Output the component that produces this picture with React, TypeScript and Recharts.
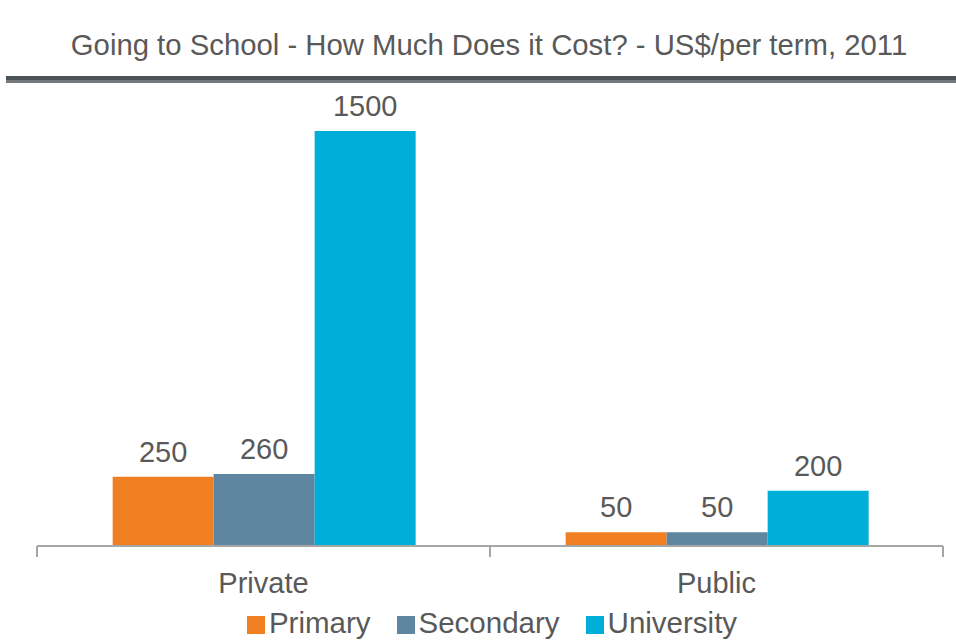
import React from "react";
import { BarChart, Bar, XAxis, YAxis, Legend, LabelList } from "recharts";

const categories = ["Private", "Public"];
const primary = [250, 50];
const secondary = [260, 50];
const university = [1500, 200];

const seriesNames = ["Primary", "Secondary", "University"];
const seriesColors = ["#F07F22", "#5E86A0", "#00AEDA"];

const TITLE = "Going to School - How Much Does it Cost? - US$/per term, 2011";
const FONT = '"Liberation Sans", Arial, sans-serif';
const GREY = "#595959";

const data = categories.map((c, i) => ({
  name: c,
  primary: primary[i],
  secondary: secondary[i],
  university: university[i],
}));

const W = 956;
const H = 640;
const margin = { top: 131, right: 13, bottom: 64, left: 37 };
const half = (W - margin.left - margin.right) / categories.length / 2;

const CategoryTick = (props: any) => {
  const { x, y, payload, index } = props;
  const off = payload && payload.offset ? payload.offset : half;
  const axisY = y - 8;
  return (
    <g>
      <line x1={x - off} x2={x - off} y1={axisY} y2={axisY + 11} stroke="#A6A6A6" strokeWidth={2} />
      {index === categories.length - 1 && (
        <line x1={x + off} x2={x + off} y1={axisY} y2={axisY + 11} stroke="#A6A6A6" strokeWidth={2} />
      )}
      <text x={x} y={y + 39} textAnchor="middle" fill={GREY} fontSize={29} fontFamily={FONT}>
        {payload.value}
      </text>
    </g>
  );
};

export default function App() {
  return (
    <div style={{ position: "absolute", left: 0, top: 0, width: W, height: H, background: "#fff", fontFamily: FONT }}>
      <div
        style={{
          position: "absolute",
          top: 30,
          left: 0,
          width: W,
          paddingLeft: 22,
          boxSizing: "border-box",
          textAlign: "center",
          fontSize: 29.3,
          lineHeight: 1,
          color: GREY,
          whiteSpace: "nowrap",
        }}
      >
        {TITLE}
      </div>
      <div style={{ position: "absolute", top: 76, left: 6, right: 0, height: 4, background: "#4B5357" }} />
      <div style={{ position: "absolute", top: 80, left: 6, right: 0, height: 3, background: "#73797C" }} />
      <BarChart width={W} height={H} data={data} margin={margin} barGap={0} barCategoryGap="16.7%">
        <XAxis
          dataKey="name"
          axisLine={{ stroke: "#A6A6A6", strokeWidth: 2 }}
          tickLine={false}
          tick={<CategoryTick />}
          height={30}
          interval={0}
        />
        <YAxis hide domain={[0, 1500]} />
        <Legend
          verticalAlign="middle"
          align="center"
          layout="horizontal"
          iconType="square"
          iconSize={18}
          wrapperStyle={{
            top: 608,
            left: 0,
            width: W,
            paddingLeft: 38,
            boxSizing: "border-box",
            fontSize: 29.5,
            lineHeight: "30px",
            fontFamily: FONT,
          }}
          formatter={(value, _entry, index) => (
            <span style={{ color: GREY, marginRight: index < seriesNames.length - 1 ? 16 : 0 }}>{value}</span>
          )}
        />
        {["primary", "secondary", "university"].map((k, i) => (
          <Bar key={k} dataKey={k} name={seriesNames[i]} fill={seriesColors[i]} isAnimationActive={false}>
            <LabelList dataKey={k} position="top" offset={15} fill={GREY} fontSize={29} fontFamily={FONT} />
          </Bar>
        ))}
      </BarChart>
    </div>
  );
}
